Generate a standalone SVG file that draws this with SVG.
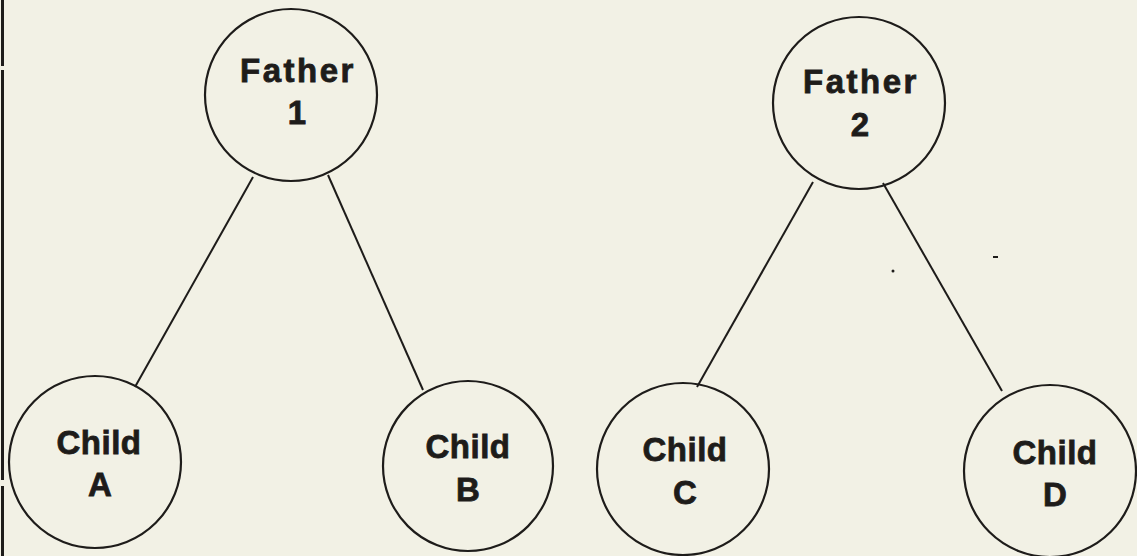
<svg xmlns="http://www.w3.org/2000/svg" width="1137" height="556" viewBox="0 0 1137 556">
<style>
.n{fill:none;stroke:#1e1c1a;stroke-width:2.2}
.e{stroke:#1e1c1a;stroke-width:2;fill:none}
.t{font-family:"Liberation Sans",Arial,sans-serif;font-weight:bold;font-size:33px;fill:#1e1c1a;stroke:#1e1c1a;stroke-width:0.8;text-anchor:middle}
.f{letter-spacing:2.5px}
.c{letter-spacing:0.5px}
</style>
<rect width="1137" height="556" fill="#f2f1e5"/>
<g id="border" stroke="#1e1c1a" stroke-width="3">
<line x1="2.5" y1="0" x2="2.5" y2="66"/>
<line x1="2.5" y1="70" x2="2.5" y2="480"/>
<line x1="2.5" y1="486" x2="2.5" y2="556"/>
</g>
<g id="connectors">
<line class="e" x1="253" y1="177" x2="135" y2="387"/>
<line class="e" x1="328" y1="175" x2="423" y2="390"/>
<line class="e" x1="813" y1="182" x2="697" y2="387"/>
<line class="e" x1="883" y1="183" x2="1002" y2="391"/>
</g>
<g id="father1"><circle class="n" cx="291" cy="95" r="86"/><text class="t f" x="298" y="82">Father</text><text class="t" x="297" y="124">1</text></g>
<g id="father2"><circle class="n" cx="859" cy="103" r="86"/><text class="t f" x="861" y="93">Father</text><text class="t" x="860" y="136">2</text></g>
<g id="childA"><circle class="n" cx="95" cy="462" r="86"/><text class="t c" x="99" y="454">Child</text><text class="t" x="100" y="496">A</text></g>
<g id="childB"><circle class="n" cx="468" cy="466" r="85"/><text class="t c" x="468" y="458">Child</text><text class="t" x="468" y="501">B</text></g>
<g id="childC"><circle class="n" cx="683" cy="469" r="86"/><text class="t c" x="685" y="461">Child</text><text class="t" x="685" y="504">C</text></g>
<g id="childD"><circle class="n" cx="1050" cy="471" r="86"/><text class="t c" x="1055" y="464">Child</text><text class="t" x="1055" y="506">D</text></g>
<g id="specks" fill="#1e1c1a"><circle cx="893" cy="271" r="1.5"/><rect x="993" y="256" width="5" height="2"/></g>
</svg>
